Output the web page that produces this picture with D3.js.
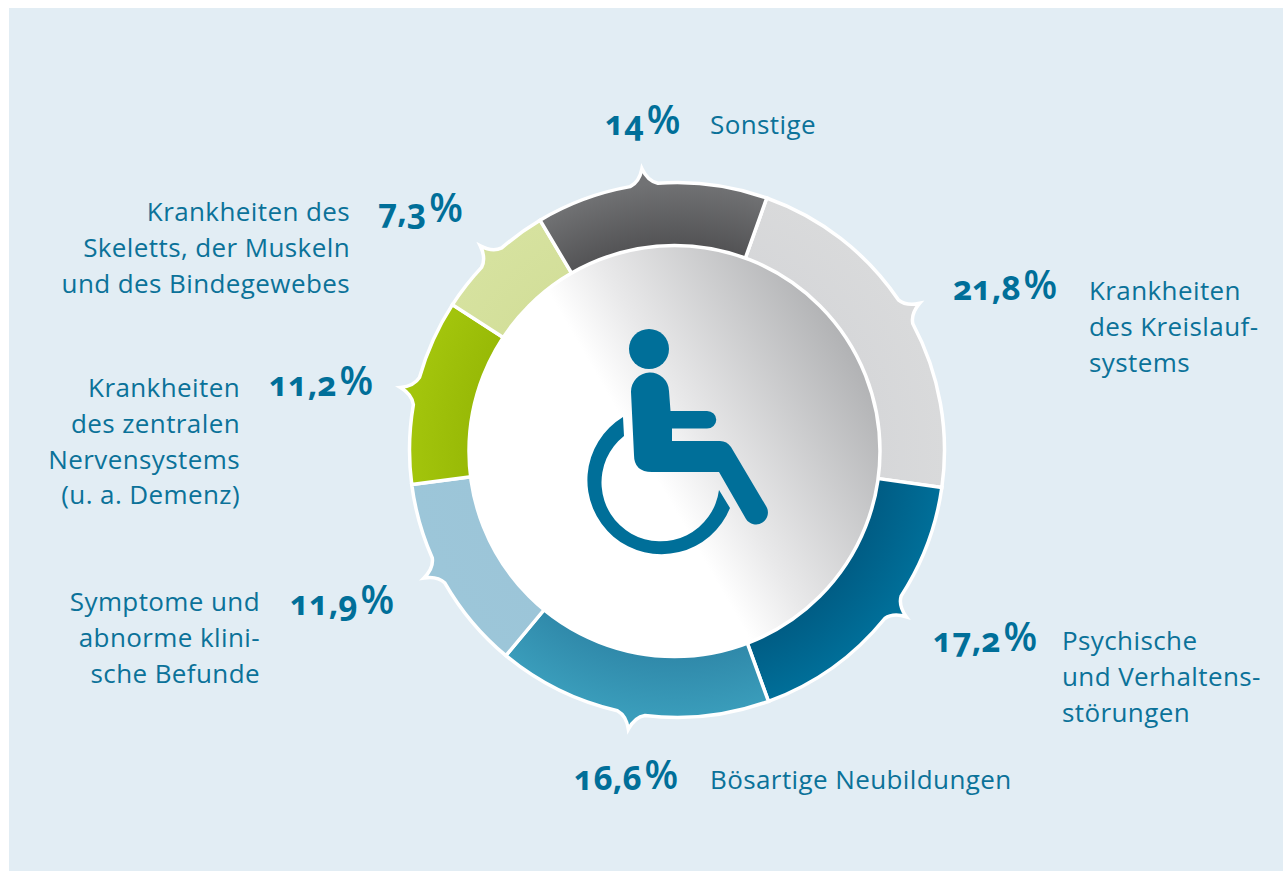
<!DOCTYPE html>
<html><head><meta charset="utf-8">
<script src="https://cdnjs.cloudflare.com/ajax/libs/d3/7.8.5/d3.min.js"></script>
<style>
html,body{margin:0;padding:0;background:#fff;overflow:hidden}
text{font-family:"Open Sans",sans-serif;fill:#0b7299}
.lab{font-size:26px;letter-spacing:.4px}
.num{font-size:33.5px;font-weight:700;font-feature-settings:"onum" 1;fill:#006f99}
.pct{font-size:39px;font-weight:600;fill:#006f99}
</style></head><body><svg id="c" width="1283" height="871"></svg>
<script>
const categories = ["Krankheiten des Kreislaufsystems","Psychische und Verhaltensstörungen","Bösartige Neubildungen","Symptome und abnorme klinische Befunde","Krankheiten des zentralen Nervensystems (u. a. Demenz)","Krankheiten des Skeletts, der Muskeln und des Bindegewebes","Sonstige"];
const values = [21.8,17.2,16.6,11.9,11.2,7.3,14];
const labelLines = [["Krankheiten","des Kreislauf-","systems"],["Psychische","und Verhaltens-","störungen"],["Bösartige Neubildungen"],["Symptome und","abnorme klini-","sche Befunde"],["Krankheiten","des zentralen","Nervensystems","(u. a. Demenz)"],["Krankheiten des","Skeletts, der Muskeln","und des Bindegewebes"],["Sonstige"]];
const innerColors = ["#d6d7d9","#005c84","#2f88a9","#9cc5d8","#97b906","#d3df9a","#525254"];
const outerColors = ["#d9dadb","#006f99","#3a9dbb","#9cc6d9","#a3c50c","#d6e29f","#717274"];
const spikeOffset = [0,-3,0,2,0,0,-1.5];
// layout: [pct x, pct baseline, label x, first baseline, anchor]
const labelPos = [[953,300,1089,300,"start"],[933,652,1062,650,"start"],[574,790,710,789,"start"],[290,615,260,611,"end"],[269,396,240,397,"end"],[378,223,350,221,"end"],[605,135,710,134,"start"]];

const W=1283,H=871,cx=677,cy=450,R=267.5,rIn=200,spike=16;
const svg=d3.select("#c");
const defs=svg.append("defs");
svg.append("rect").attr("x",9).attr("y",8).attr("width",W-9).attr("height",H-8).attr("fill","#e2edf4");

const g=svg.append("g").attr("transform",`translate(${cx},${cy})`);
const rad=d=>d*Math.PI/180;
const pie=d3.pie().sort(null).startAngle(rad(19.6)).endAngle(rad(379.6));
const arcs=pie(values);
const pt=(r,a)=>[r*Math.sin(a),-r*Math.cos(a)];

function slicePath(d,i){
  const mid=(d.startAngle+d.endAngle)/2+rad(spikeOffset[i]),w=rad(3),p=d3.path();
  p.moveTo(...pt(rIn,d.startAngle));
  p.lineTo(...pt(R,d.startAngle));
  p.arc(0,0,R,d.startAngle-Math.PI/2,mid-w-Math.PI/2);
  p.quadraticCurveTo(...pt(R+3,mid-w*0.3),...pt(R+spike,mid));
  p.quadraticCurveTo(...pt(R+3,mid+w*0.3),...pt(R,mid+w));
  p.arc(0,0,R,mid+w-Math.PI/2,d.endAngle-Math.PI/2);
  p.lineTo(...pt(rIn,d.endAngle));
  p.arc(0,0,rIn,d.endAngle-Math.PI/2,d.startAngle-Math.PI/2,true);
  p.closePath();return p.toString();
}
arcs.forEach((d,i)=>{
  const gr=defs.append("radialGradient").attr("id","s"+i).attr("gradientUnits","userSpaceOnUse")
    .attr("cx",0).attr("cy",0).attr("r",R);
  gr.append("stop").attr("offset",0.76).attr("stop-color",innerColors[i]);
  gr.append("stop").attr("offset",1).attr("stop-color",outerColors[i]);
});
g.selectAll("path.slice").data(arcs).join("path").attr("class","slice")
  .attr("d",slicePath).attr("fill",(d,i)=>`url(#s${i})`)
  .attr("stroke","#fff").attr("stroke-width",3.5).attr("stroke-linejoin","miter").attr("stroke-miterlimit",10);

// centre disc
const lg=defs.append("linearGradient").attr("id","disc").attr("gradientUnits","userSpaceOnUse")
  .attr("x1",640).attr("y1",450).attr("x2",845).attr("y2",331);
lg.append("stop").attr("offset",0).attr("stop-color","#ffffff");
lg.append("stop").attr("offset",0.25).attr("stop-color","#e9e9ea");
lg.append("stop").attr("offset",1).attr("stop-color","#b0b1b3");
svg.append("circle").attr("cx",674.5).attr("cy",451).attr("r",205.5)
  .attr("fill","url(#disc)").attr("stroke","#fff").attr("stroke-width",3.5);

// wheelchair icon
const ic=svg.append("g").attr("fill","#006f99");
ic.append("circle").attr("cx",649).attr("cy",349).attr("r",20);
ic.append("path").attr("d","M631 392 A19 19 0 0 1 669 391 L670.500 411 L707 411 A9 8.500 0 0 1 707 428.500 L672 428.500 L672 441 L720 441 Q727 441 731 447 L766 506 A11.500 11.500 0 0 1 746 519 L719 472 L652 472 Q634 472 634 455 Z");
ic.append("path").attr("d","M623 417 A74 74 0 1 0 730 508 L719 490 A59 59 0 1 1 624 436 Z");

// labels
const lh=35.8;
labelPos.forEach((p,i)=>{
  const t=svg.append("text").attr("x",p[0]).attr("y",p[1]);
  t.append("tspan").attr("class","num").text(String(values[i]).replace(".",","));
  t.append("tspan").attr("class","pct").attr("dx",3).attr("dy",-1).text("%");
  labelLines[i].forEach((l,j)=>{
    svg.append("text").attr("class","lab").attr("x",p[2]).attr("y",p[3]+j*lh)
      .attr("text-anchor",p[4]).text(l);
  });
});
</script></body></html>
